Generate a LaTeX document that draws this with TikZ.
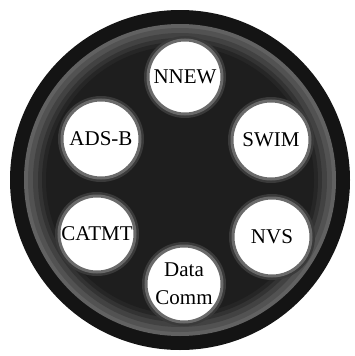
\documentclass[tikz,border=0pt]{standalone}
\usepackage{fontspec}
\setmainfont{Liberation Serif}
\definecolor{rimblack}{HTML}{141414}
\definecolor{facedark}{HTML}{1E1E1E}
\definecolor{halogrey}{HTML}{6A6A6A}
\definecolor{haloouter}{HTML}{3A3A3A}
\tikzset{
  port/.style={circle, fill=white, draw=halogrey, line width=3pt,
    inner sep=0pt, align=center, text=black,
    font=\fontsize{21}{28}\selectfont,
    preaction={draw=haloouter, line width=8pt}},
}
\begin{document}
\begin{tikzpicture}[x=1pt,y=-1pt]
  \useasboundingbox (0,0) rectangle (354,356);
  % wheel body: black rim, soft grey band, dark face
  \fill[rimblack] (180,180) circle[radius=170];
  \fill[black!62] (180,180) circle[radius=156];
  \fill[black!68] (180,180) circle[radius=152];
  \fill[black!74] (180,180) circle[radius=147];
  \fill[black!80] (180,180) circle[radius=142];
  \fill[black!85] (180,180) circle[radius=138];
  \fill[facedark] (180,180) circle[radius=134];
  % programme discs
  \node[port, minimum size=74pt] (nnew) at (185,77) {NNEW};
  \node[port, minimum size=78pt] (swim) at (271,140) {SWIM};
  \node[port, minimum size=78pt] (adsb) at (101,139) {ADS-B};
  \node[port, minimum size=76pt] (catmt) at (97,234) {CATMT};
  \node[port, minimum size=78pt] (nvs) at (272,237) {NVS};
  \node[port, minimum size=76pt] (datacomm) at (184,284) {Data\\Comm};
\end{tikzpicture}
\end{document}
